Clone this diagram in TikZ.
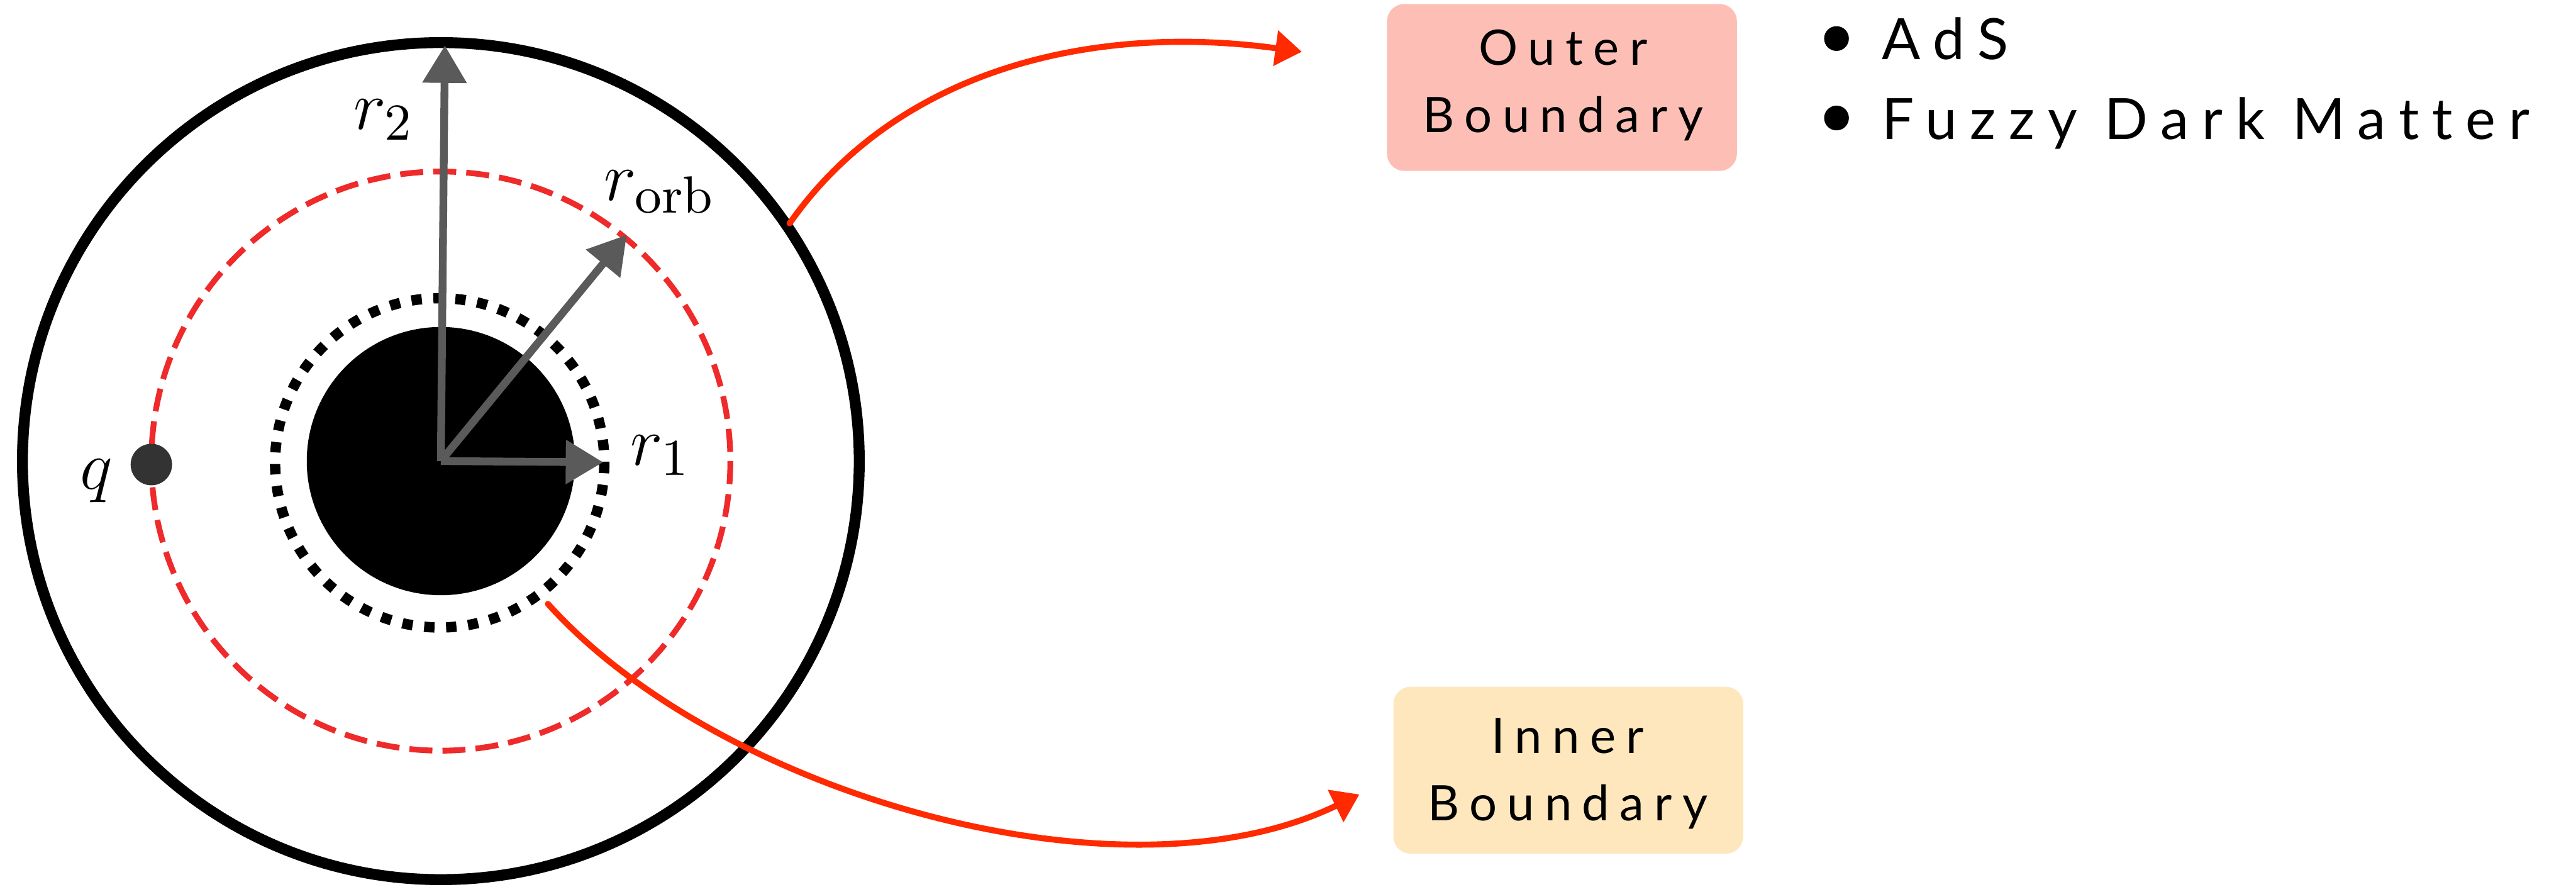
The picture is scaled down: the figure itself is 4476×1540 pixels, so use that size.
\documentclass[tikz,border=0pt]{standalone}
\usepackage{fontspec}
\usetikzlibrary{arrows.meta}
\newfontfamily\boxfont[LetterSpace=21, Ligatures=CommonOff]{Lato}
\newfontfamily\listfont[LetterSpace=23, Ligatures=CommonOff]{Lato}
\definecolor{outerfill}{HTML}{FDBFB5}
\definecolor{innerfill}{HTML}{FEE7BD}
\definecolor{orbred}{HTML}{EE2A2A}
\definecolor{arrred}{HTML}{FF2A00}
\definecolor{arrgray}{HTML}{5A5A5A}
\definecolor{qgray}{HTML}{333333}
\newcommand\mylabelsize{\fontsize{13}{15}\selectfont}
\begin{document}
\begin{tikzpicture}[x=0.1pt,y=-0.1pt,
  grayarrow/.style={draw=arrgray, line width=1.35pt, -{Triangle[length=6.5pt,width=7.4pt]}},
  redarrow/.style={draw=arrred, line width=1.05pt, line cap=round, -{Triangle[length=4.6pt,width=6pt]}},
  mathlabel/.style={anchor=base west, inner sep=0pt, font=\mylabelsize},
  boxstyle/.style={rounded corners=3pt, inner sep=0pt, minimum width=60.8pt, minimum height=29pt},
  boxtext/.style={inner sep=0pt, align=center, font=\boxfont\fontsize{8.5}{11.7}\selectfont},
  listtext/.style={anchor=base west, inner sep=0pt, font=\listfont\fontsize{9.9}{12}\selectfont},
  bulletdot/.style={circle, fill=black, inner sep=0pt, minimum size=4.3pt}
]
\useasboundingbox (0,0) rectangle (4476,1540);
\coordinate (c) at (766,801);
% circles
\draw[line width=1.9pt] (c) circle[radius=727];
\draw[orbred, line width=1pt, dash pattern=on 4pt off 1.75pt] (c) circle[radius=503];
\fill[black] (c) circle[radius=233];
\draw[line width=1.8pt, dash pattern=on 1.8pt off 2.02pt] (764,804) circle[radius=286];
% radius arrows
\coordinate (t2) at (773,79);
\coordinate (t1) at (1048,803);
\coordinate (torb) at (1089,408);
\draw[grayarrow] (c) -- (t2);
\draw[grayarrow] (c) -- (torb);
\draw[grayarrow] (c) -- (t1);
% particle
\node[circle, fill=qgray, minimum size=7.2pt, inner sep=0pt] (qdot) at (263,807) {};
% labels
\node[mathlabel] (lq) at (137,850) {$q$};
\node[mathlabel] (lr2) at (613,225) {$r_2$};
\node[mathlabel] (lrorb) at (1048,348) {$r_{\mathrm{orb}}$};
\node[mathlabel] (lr1) at (1094,808) {$r_1$};
% boxes
\node[boxstyle, fill=outerfill] (outer) at (2714,152) {};
\node[boxtext] (outertext) at (2716,148) {Outer\\Boundary};
\node[boxstyle, fill=innerfill] (inner) at (2725,1338) {};
\node[boxtext] (innertext) at (2724,1344) {Inner\\Boundary};
% list
\node[bulletdot] (b1) at (3191,67) {};
\node[bulletdot] (b2) at (3191,205) {};
\node[listtext] (ads) at (3268,103) {AdS};
\node[listtext] (fdm) at (3268,242) {Fuzzy Dark Matter};
% red arrows
\coordinate (os) at (1372,388);
\coordinate (oe) at (2262,90);
\coordinate (is) at (952,1049);
\coordinate (ie) at (2362,1380);
\draw[redarrow] (os) .. controls (1560,120) and (1900,40) .. (oe);
\draw[redarrow] (is) .. controls (1250,1380) and (1950,1580) .. (ie);
\end{tikzpicture}
\end{document}
